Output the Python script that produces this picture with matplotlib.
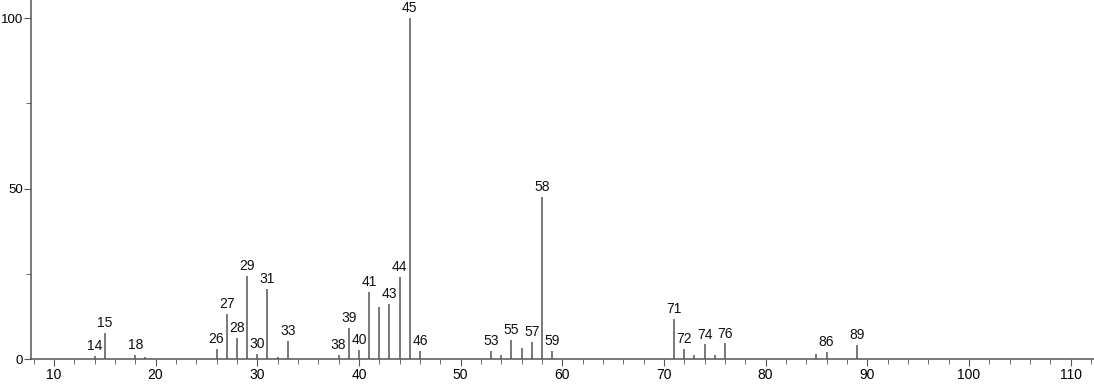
"""Mass spectrum stick plot (relative intensity vs m/z)."""
import matplotlib
matplotlib.use("Agg")
import matplotlib.pyplot as plt
from matplotlib.ticker import MultipleLocator

plt.rcParams["font.family"] = ["Liberation Sans", "DejaVu Sans"]

mz = [14, 15, 18, 19, 26, 27, 28, 29, 30, 31, 32, 33, 38, 39, 40, 41, 42, 43, 44,
      45, 46, 53, 54, 55, 56, 57, 58, 59, 71, 72, 73, 74, 75, 76, 85, 86, 89]
intensity = [1.0, 7.6, 1.2, 0.6, 2.9, 13.2, 6.2, 24.4, 1.5, 20.5, 0.7, 5.4, 1.1, 9.1,
             2.6, 19.6, 15.3, 16.1, 24.0, 100.0, 2.3, 2.3, 1.1, 5.6, 3.1, 5.1, 47.5,
             2.3, 11.7, 3.0, 1.1, 4.3, 1.1, 4.6, 1.6, 2.1, 4.1]
labelled = [14, 15, 18, 26, 27, 28, 29, 30, 31, 33, 38, 39, 40, 41, 43, 44, 45, 46,
            53, 55, 57, 58, 59, 71, 72, 74, 76, 86, 89]

fig = plt.figure(figsize=(10.94, 3.84), dpi=100)
ax = fig.add_axes([30.5 / 1094, 25 / 384, 1 - 30.5 / 1094, 1 - 25 / 384])

ax.vlines(mz, 0, intensity, color="#555555", lw=1.1)
for m, h in zip(mz, intensity):
    if m in labelled:
        ax.annotate(str(m), (m, h), xytext=(0, 2), textcoords="offset points",
                    ha="center", va="bottom", fontsize=10, color="#111111")

ax.set_xlim(7.7, 112.3)
ax.set_ylim(0, 105.3)
ax.xaxis.set_major_locator(MultipleLocator(10))
ax.xaxis.set_minor_locator(MultipleLocator(2))
ax.yaxis.set_major_locator(MultipleLocator(50))
ax.yaxis.set_minor_locator(MultipleLocator(25))

for s in ("top", "right"):
    ax.spines[s].set_visible(False)
for s in ("left", "bottom"):
    ax.spines[s].set_color("#555555")
    ax.spines[s].set_linewidth(1.1)
ax.tick_params(which="major", length=5, color="#555555", labelsize=10, pad=0.5)
ax.tick_params(which="minor", length=3.5, color="#555555")
ax.tick_params(axis="x", which="major", pad=1.5)
ax.tick_params(axis="y", which="major", labelsize=9.5)

fig.savefig("out.png", dpi=100)
